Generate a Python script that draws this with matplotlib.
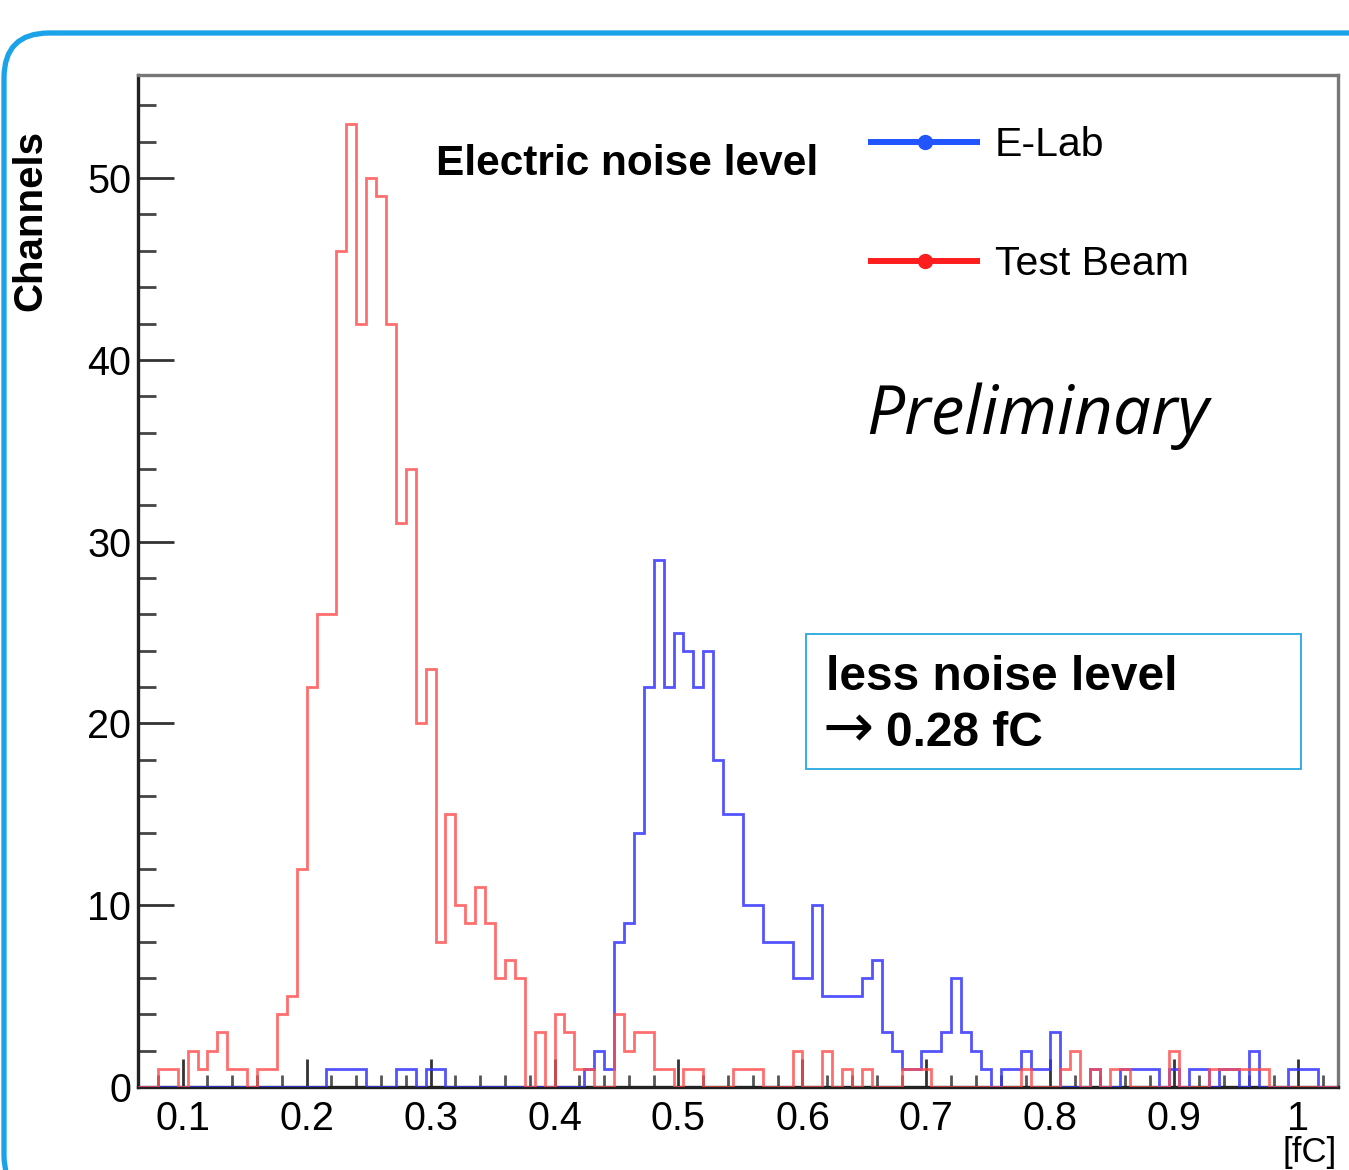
import numpy as np
import matplotlib
matplotlib.use("Agg")
import matplotlib.pyplot as plt
from matplotlib.ticker import MultipleLocator, FixedLocator, FixedFormatter
from matplotlib.patches import FancyBboxPatch, Rectangle
from matplotlib.lines import Line2D

# ---------------- data ----------------
bin_width = 0.008
first_bin = 8          # first shown bin starts at 8 * 0.008 = 0.064 fC

test_beam_counts = [
    0, 0, 1, 1, 0, 2, 1, 2, 3, 1,
    1, 0, 1, 1, 4, 5, 12, 22, 26, 26,
    46, 53, 42, 50, 49, 42, 31, 34, 20, 23,
    8, 15, 10, 9, 11, 9, 6, 7, 6, 0,
    3, 0, 4, 3, 1, 1, 0, 0, 4, 2,
    3, 3, 1, 1, 0, 1, 1, 0, 0, 0,
    1, 1, 1, 0, 0, 0, 2, 0, 0, 2,
    0, 1, 0, 1, 0, 0, 0, 1, 1, 1,
    0, 0, 0, 0, 0, 0, 0, 0, 0, 1,
    0, 0, 0, 1, 2, 0, 1, 0, 1, 1,
    0, 0, 0, 0, 2, 0, 0, 0, 1, 1,
    1, 1, 1, 1, 0, 0, 0, 0, 0, 0,
    0,
]
elab_counts = [
    0, 0, 0, 0, 0, 0, 0, 0, 0, 0,
    0, 0, 0, 0, 0, 0, 0, 0, 0, 1,
    1, 1, 1, 0, 0, 0, 1, 1, 0, 1,
    1, 0, 0, 0, 0, 0, 0, 0, 0, 0,
    0, 0, 0, 0, 0, 1, 2, 1, 8, 9,
    14, 22, 29, 22, 25, 24, 22, 24, 18, 15,
    15, 10, 10, 8, 8, 8, 6, 6, 10, 5,
    5, 5, 5, 6, 7, 3, 2, 1, 1, 2,
    2, 3, 6, 3, 2, 1, 0, 1, 1, 2,
    1, 1, 3, 0, 0, 0, 1, 0, 0, 1,
    1, 1, 1, 0, 1, 0, 1, 1, 0, 1,
    1, 0, 2, 0, 0, 0, 1, 1, 1, 0,
    0,
]
x_major = [0.1, 0.2, 0.3, 0.4, 0.5, 0.6, 0.7, 0.8, 0.9, 1.0]
x_labels = ["0.1", "0.2", "0.3", "0.4", "0.5", "0.6", "0.7", "0.8", "0.9", "1"]
y_major = [0, 10, 20, 30, 40, 50]
y_labels = ["0", "10", "20", "30", "40", "50"]
series_names = ["E-Lab", "Test Beam"]
title_text = "Electric noise level"
note_line1 = "less noise level"
note_arrow = "\u2192"
note_value = "0.28 fC"
y_title = "Channels"
x_title = "[fC]"
stamp = "Preliminary"

# ---------------- figure ----------------
W, H = 1349, 1170
DPI = 100
fig = plt.figure(figsize=(W / DPI, H / DPI), dpi=DPI)
fig.patch.set_facecolor("white")

def fx(px):
    return px / W

def fy(py):
    return 1 - py / H

ax_l, ax_r, ax_t, ax_b = 138, 1338, 75, 1087
ax = fig.add_axes([fx(ax_l), fy(ax_b), (ax_r - ax_l) / W, (ax_b - ax_t) / H])

edges = np.arange(first_bin, first_bin + len(test_beam_counts) + 1) * bin_width

RED = "#ff4a4a"
BLUE = "#3636ff"
ax.stairs(elab_counts, edges, color=BLUE, lw=2.0, alpha=0.85, baseline=0, zorder=3)
ax.stairs(test_beam_counts, edges, color=RED, lw=2.0, alpha=0.8, baseline=0, zorder=4)

ax.set_xlim(edges[0], edges[-1])
ax.set_ylim(0, 55.67)

FONT = ["Liberation Sans", "DejaVu Sans"]

ax.xaxis.set_major_locator(FixedLocator(x_major))
ax.xaxis.set_major_formatter(FixedFormatter(x_labels))
ax.xaxis.set_minor_locator(MultipleLocator(0.02))
ax.yaxis.set_major_locator(FixedLocator(y_major))
ax.yaxis.set_major_formatter(FixedFormatter(y_labels))
ax.yaxis.set_minor_locator(MultipleLocator(2))

ax.tick_params(axis="y", which="major", direction="in", length=26, width=2.0,
               color="#333333", labelsize=28.5, pad=5)
ax.tick_params(axis="y", which="minor", direction="in", length=13, width=2.0,
               color="#444444")
ax.tick_params(axis="x", which="major", direction="in", length=20, width=2.0,
               color="#333333", labelsize=28.5, pad=9)
ax.tick_params(axis="x", which="minor", direction="in", length=9, width=2.0,
               color="#555555")
for lab in ax.get_xticklabels() + ax.get_yticklabels():
    lab.set_family(FONT)

for side in ["left", "bottom"]:
    ax.spines[side].set_color("#222222")
    ax.spines[side].set_linewidth(2.4)
for side in ["top", "right"]:
    ax.spines[side].set_color("#777777")
    ax.spines[side].set_linewidth(2.4)

# ---------------- texts ----------------
fig.text(fx(436), fy(164), title_text, fontsize=30.5, fontweight="bold",
         family=FONT, ha="left", va="center")

legend_y = [142, 261]
legend_cols = ["#2055ff", "#ff1e1e"]
for name, ly, c in zip(series_names, legend_y, legend_cols):
    fig.add_artist(Line2D([fx(868), fx(980)], [fy(ly), fy(ly)], color=c, lw=4.3,
                          transform=fig.transFigure, solid_capstyle="butt"))
    fig.add_artist(Line2D([fx(925)], [fy(ly)], color=c, marker="o", ms=10,
                          transform=fig.transFigure))
    fig.text(fx(995), fy(ly + 3), name, fontsize=29.5, family=FONT,
             ha="left", va="center")

fig.text(fx(866), fy(416), stamp, fontsize=48.5, family=["Open Sans", "DejaVu Sans"],
         style="italic", ha="left", va="center")

fig.add_artist(Rectangle((fx(806), fy(769)), (1301 - 806) / W, (769 - 634) / H,
                         transform=fig.transFigure, fill=False,
                         edgecolor="#27a8e0", lw=1.3))
fig.text(fx(826), fy(678), note_line1, fontsize=34.5, fontweight="bold",
         family=FONT, ha="left", va="center")
fig.text(fx(823), fy(731), note_arrow, fontsize=44, fontweight="normal",
         family=["DejaVu Sans"], ha="left", va="center")
fig.text(fx(886), fy(733), note_value, fontsize=34.5, fontweight="bold",
         family=FONT, ha="left", va="center")

fig.text(fx(30), fy(130), y_title, fontsize=29, fontweight="bold", family=FONT,
         rotation=90, ha="center", va="top")
fig.text(fx(1337), fy(1136), x_title, fontsize=25, family=FONT,
         ha="right", va="top")

# outer rounded frame
border = FancyBboxPatch((4 / DPI, (H - 1200) / DPI), (1420 - 4) / DPI, (1200 - 33) / DPI,
                        boxstyle="round,pad=0,rounding_size=0.45",
                        transform=fig.dpi_scale_trans, fill=False,
                        edgecolor="#1aa3e8", lw=3.8, clip_on=False)
fig.add_artist(border)

fig.savefig("out.png", dpi=DPI, facecolor="white")
